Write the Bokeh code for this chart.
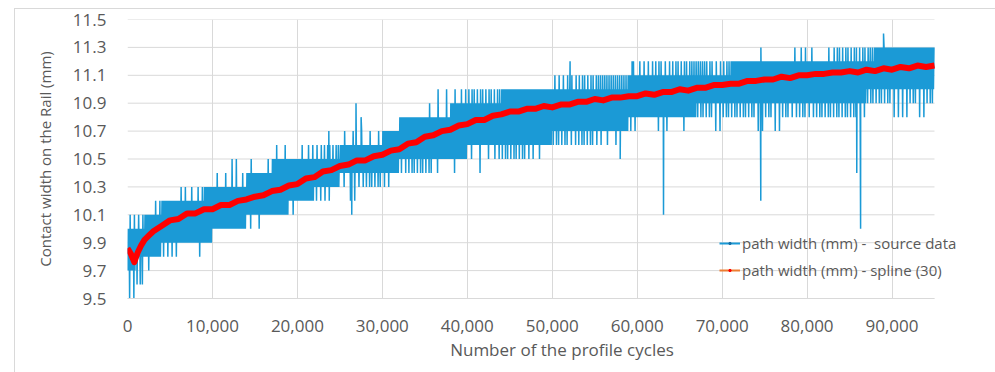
from bokeh.plotting import figure
from bokeh.models import (Range1d, FixedTicker, NumeralTickFormatter, Legend,
                          LegendItem)
from bokeh.embed import file_html
from bokeh.resources import INLINE

# ---------------------------------------------------------------------------
# Source data: contact width, quantised to 0.1 mm, summarised per 1000 cycles
# band_lo / band_hi : levels the signal swings between most of the time
# tip_lo / tip_hi   : occasional one-step excursions beyond the band
# n_lo / n_hi       : how many of those excursions occur in the block
# ---------------------------------------------------------------------------
block_start = list(range(0, 95000, 1000))

tip_lo = [9.5, 9.6, 9.7, 9.8, 9.8, 9.8, 9.9, 9.9, 9.8, 9.9,
          10.0, 10.0, 10.0, 10.0, 10.0, 10.0, 10.1, 10.1, 10.1, 10.1,
          10.2, 10.2, 10.2, 10.2, 10.3, 10.3, 10.2, 10.3, 10.3, 10.3,
          10.3, 10.4, 10.4, 10.4, 10.4, 10.4, 10.4, 10.5, 10.4, 10.5,
          10.5, 10.4, 10.5, 10.5, 10.5, 10.5, 10.5, 10.5, 10.5, 10.6,
          10.6, 10.6, 10.6, 10.6, 10.6, 10.6, 10.6, 10.6, 10.7, 10.7,
          10.8, 10.8, 10.7, 10.7, 10.8, 10.7, 10.8, 10.8, 10.8, 10.7,
          10.8, 10.8, 10.8, 10.8, 10.7, 10.8, 10.7, 10.8, 10.8, 10.8,
          10.8, 10.8, 10.8, 10.8, 10.8, 10.8, 10.8, 10.9, 10.9, 10.9,
          10.8, 10.8, 10.9, 10.8, 10.9]
band_lo = [9.7, 9.8, 9.8, 9.8, 9.9, 9.9, 9.9, 9.9, 9.9, 9.9,
           10.0, 10.0, 10.0, 10.0, 10.1, 10.1, 10.1, 10.1, 10.1, 10.2,
           10.2, 10.2, 10.3, 10.3, 10.3, 10.4, 10.4, 10.4, 10.4, 10.4,
           10.4, 10.4, 10.5, 10.5, 10.5, 10.5, 10.5, 10.5, 10.5, 10.5,
           10.6, 10.6, 10.6, 10.6, 10.6, 10.6, 10.6, 10.6, 10.6, 10.6,
           10.7, 10.7, 10.7, 10.7, 10.7, 10.7, 10.7, 10.7, 10.7, 10.8,
           10.8, 10.8, 10.8, 10.8, 10.8, 10.8, 10.8, 10.9, 10.9, 10.9,
           10.9, 10.9, 10.9, 10.9, 10.9, 10.9, 10.9, 10.9, 10.9, 10.9,
           10.9, 10.9, 10.9, 10.9, 10.9, 10.9, 10.9, 11.0, 11.0, 11.0,
           11.0, 11.0, 11.0, 11.0, 11.0]
band_hi = [10.0, 10.0, 10.1, 10.1, 10.2, 10.2, 10.2, 10.2, 10.2, 10.3,
           10.3, 10.3, 10.3, 10.3, 10.4, 10.4, 10.4, 10.5, 10.5, 10.5,
           10.5, 10.5, 10.5, 10.5, 10.5, 10.6, 10.6, 10.6, 10.6, 10.6,
           10.7, 10.7, 10.8, 10.8, 10.8, 10.8, 10.8, 10.8, 10.9, 10.9,
           10.9, 10.9, 10.9, 10.9, 11.0, 11.0, 11.0, 11.0, 11.0, 11.0,
           11.0, 11.0, 11.0, 11.0, 11.0, 11.0, 11.0, 11.0, 11.0, 11.1,
           11.1, 11.1, 11.1, 11.1, 11.1, 11.1, 11.1, 11.1, 11.1, 11.1,
           11.1, 11.2, 11.2, 11.2, 11.2, 11.2, 11.2, 11.2, 11.2, 11.2,
           11.2, 11.2, 11.2, 11.2, 11.2, 11.2, 11.2, 11.2, 11.3, 11.3,
           11.3, 11.3, 11.3, 11.3, 11.3]
tip_hi = [10.1, 10.1, 10.1, 10.2, 10.2, 10.2, 10.3, 10.3, 10.3, 10.3,
          10.4, 10.4, 10.5, 10.4, 10.5, 10.4, 10.5, 10.6, 10.6, 10.5,
          10.6, 10.6, 10.6, 10.6, 10.6, 10.7, 10.7, 10.7, 10.7, 10.7,
          10.7, 10.7, 10.8, 10.8, 10.8, 10.9, 11.0, 11.0, 11.0, 11.0,
          11.0, 11.0, 11.0, 11.0, 11.0, 11.0, 11.0, 11.0, 11.0, 11.0,
          11.1, 11.1, 11.1, 11.1, 11.1, 11.1, 11.1, 11.1, 11.1, 11.2,
          11.2, 11.2, 11.2, 11.2, 11.2, 11.2, 11.2, 11.2, 11.2, 11.2,
          11.2, 11.2, 11.2, 11.2, 11.3, 11.2, 11.2, 11.2, 11.3, 11.3,
          11.3, 11.2, 11.3, 11.3, 11.3, 11.3, 11.3, 11.3, 11.3, 11.3,
          11.3, 11.3, 11.3, 11.3, 11.3]
n_lo = [2, 3, 1, 0, 2, 2, 0, 0, 1, 0,
        0, 0, 0, 0, 1, 1, 0, 0, 0, 1,
        0, 0, 2, 2, 0, 1, 2, 2, 3, 3,
        2, 0, 2, 3, 3, 3, 1, 0, 1, 0,
        1, 1, 1, 2, 3, 3, 3, 2, 1, 0,
        3, 3, 2, 3, 3, 2, 1, 1, 0, 2,
        0, 0, 1, 1, 0, 1, 0, 3, 3, 2,
        3, 3, 3, 3, 2, 3, 2, 3, 2, 3,
        2, 3, 3, 3, 3, 3, 2, 3, 3, 3,
        2, 2, 3, 2, 3]
n_hi = [2, 2, 0, 2, 0, 0, 2, 1, 2, 0,
        1, 1, 2, 1, 1, 0, 1, 1, 1, 0,
        1, 2, 2, 3, 3, 1, 1, 1, 1, 1,
        0, 0, 0, 0, 0, 1, 1, 1, 1, 2,
        3, 3, 3, 3, 0, 0, 0, 0, 0, 0,
        2, 2, 2, 3, 3, 4, 4, 4, 4, 1,
        2, 2, 3, 2, 3, 3, 4, 4, 3, 2,
        3, 0, 0, 0, 1, 0, 0, 0, 1, 2,
        1, 0, 1, 3, 3, 3, 3, 4, 0, 0,
        0, 0, 0, 0, 0]

# isolated readings far outside the band
outlier_x = [23700, 26400, 26900, 27500, 52100, 58000, 59400,
             63100, 74550, 85850, 86300, 89000]
outlier_v = [10.7, 10.1, 10.9, 10.8, 11.2, 10.5, 11.2,
             10.1, 10.2, 10.4, 10.0, 11.4]

# smoothed curve (spline, 30)
spline_x = [0, 400, 800, 1200, 1600, 2000, 2500, 3000] + list(range(4000, 96000, 1000))
spline_v = [9.86, 9.82, 9.76, 9.83, 9.88, 9.92, 9.95, 9.98,
            10.02, 10.06, 10.07, 10.11, 10.11, 10.14, 10.14, 10.17, 10.17, 10.20,
            10.21, 10.23, 10.24, 10.27, 10.28, 10.31, 10.32, 10.36, 10.37, 10.41,
            10.42, 10.45, 10.46, 10.49, 10.49, 10.52, 10.53, 10.56, 10.57, 10.61,
            10.62, 10.66, 10.67, 10.70, 10.71, 10.74, 10.75, 10.78, 10.78, 10.81,
            10.82, 10.84, 10.84, 10.86, 10.86, 10.88, 10.87, 10.89, 10.89, 10.91,
            10.91, 10.93, 10.92, 10.94, 10.94, 10.95, 10.95, 10.97, 10.96, 10.98,
            10.98, 11.00, 10.99, 11.01, 11.01, 11.03, 11.03, 11.04, 11.04, 11.06,
            11.06, 11.07, 11.07, 11.09, 11.08, 11.10, 11.10, 11.11, 11.11, 11.12,
            11.12, 11.13, 11.12, 11.14, 11.13, 11.15, 11.14, 11.16, 11.15, 11.17,
            11.16, 11.17]

x_ticks = [0, 10000, 20000, 30000, 40000, 50000, 60000, 70000, 80000, 90000]
y_ticks = [9.5, 9.7, 9.9, 10.1, 10.3, 10.5, 10.7, 10.9, 11.1, 11.3, 11.5]
x_min, x_max = 0, 95000
y_min, y_max = 9.5, 11.5

BLUE = "#1b9ad6"
TEXT = "#595959"
GRID = "#d9d9d9"
FONT = "Open Sans"

# plot area geometry (pixels)
FRAME_W_DATA = 807          # width spanned by x_min..x_max
FRAME_W = 869               # frame runs on to the right edge so the legend can overhang
x_view_end = x_min + (x_max - x_min) * FRAME_W / FRAME_W_DATA


def spread(count, slots):
    return {int((q + 0.5) * slots / count) for q in range(count)}


# expand the per-block summary into the raw oscillating trace
SUB = 16
pts = []
for i, start in enumerate(block_start):
    lo_slots = spread(n_lo[i], SUB // 2)
    hi_slots = spread(n_hi[i], SUB // 2)
    for j in range(SUB):
        k = j // 2
        if j % 2 == 0:
            v = tip_lo[i] if k in lo_slots else band_lo[i]
        else:
            v = tip_hi[i] if k in hi_slots else band_hi[i]
        pts.append((start + j * 1000.0 / SUB, v))
pts += list(zip(outlier_x, outlier_v))
pts.sort(key=lambda t: t[0])
src_x = [t[0] for t in pts]
src_v = [t[1] for t in pts]

p = figure(width=981, height=364, output_backend="svg", toolbar_location=None,
           x_range=Range1d(x_min, x_view_end), y_range=Range1d(y_min, y_max),
           min_border_left=112, min_border_right=0,
           min_border_top=10, min_border_bottom=75,
           margin=(8, 0, 0, 14),
           styles={"border-left": "1px solid #d9d9d9",
                   "border-top": "1px solid #d9d9d9"})
p.outline_line_color = None
p.background_fill_color = "white"
p.border_fill_color = "white"

# horizontal grid lines, limited to the data extent
p.ygrid.visible = False
p.segment(x0=[x_min] * len(y_ticks), x1=[x_max] * len(y_ticks),
          y0=y_ticks, y1=y_ticks, color=GRID, line_width=1)

p.xgrid.ticker = FixedTicker(ticks=x_ticks)
p.xgrid.grid_line_color = GRID
p.xgrid.grid_line_width = 1

p.line(src_x, src_v, color=BLUE, line_width=1.5)
p.line(spline_x, spline_v, color="#ff0000", line_width=6, line_join="round")

# axes
p.xaxis.ticker = FixedTicker(ticks=x_ticks)
p.xaxis.formatter = NumeralTickFormatter(format="0,0")
p.xaxis.bounds = (x_min, x_max)
p.yaxis.ticker = FixedTicker(ticks=y_ticks)
p.yaxis.formatter = NumeralTickFormatter(format="0.0")
for ax in (p.xaxis, p.yaxis):
    ax.major_tick_line_color = None
    ax.minor_tick_line_color = None
    ax.major_label_text_font = FONT
    ax.major_label_text_font_size = "17px"
    ax.major_label_text_color = TEXT
    ax.axis_label_text_font = FONT
    ax.axis_label_text_font_style = "normal"
    ax.axis_label_text_color = TEXT
p.xaxis.axis_label_text_font_size = "17px"
p.yaxis.axis_label_text_font_size = "15px"
p.yaxis.axis_line_color = None
p.xaxis.axis_line_color = GRID
p.xaxis.major_label_standoff = 15
p.yaxis.major_label_standoff = 15
p.xaxis.axis_label = "Number of the profile cycles"
p.yaxis.axis_label = "Contact width on the Rail (mm)"
p.xaxis.axis_label_standoff = 3
p.yaxis.axis_label_standoff = 15

# legend (proxy renderers carry no visible data)
nan = float("nan")
lg_src_line = p.line([nan], [nan], color=BLUE, line_width=2)
lg_src_dot = p.scatter([nan], [nan], marker="circle", size=2, color="#1670a8")
lg_spl_line = p.line([nan], [nan], color="#ed7d31", line_width=2)
lg_spl_dot = p.scatter([nan], [nan], marker="circle", size=3, color="#ff0000")
legend = Legend(items=[
    LegendItem(label="path width (mm) -  source data", renderers=[lg_src_line, lg_src_dot]),
    LegendItem(label="path width (mm) - spline (30)", renderers=[lg_spl_line, lg_spl_dot]),
], location=(592, 18))
legend.background_fill_alpha = 0
legend.border_line_color = None
legend.padding = 0
legend.margin = 0
legend.spacing = 7
legend.glyph_width = 21
legend.glyph_height = 6
legend.label_height = 20
legend.label_standoff = 2
legend.label_text_font = FONT
legend.label_text_font_size = "15px"
legend.label_text_color = TEXT
p.add_layout(legend)

open("out.html", "w").write(file_html(p, INLINE))
